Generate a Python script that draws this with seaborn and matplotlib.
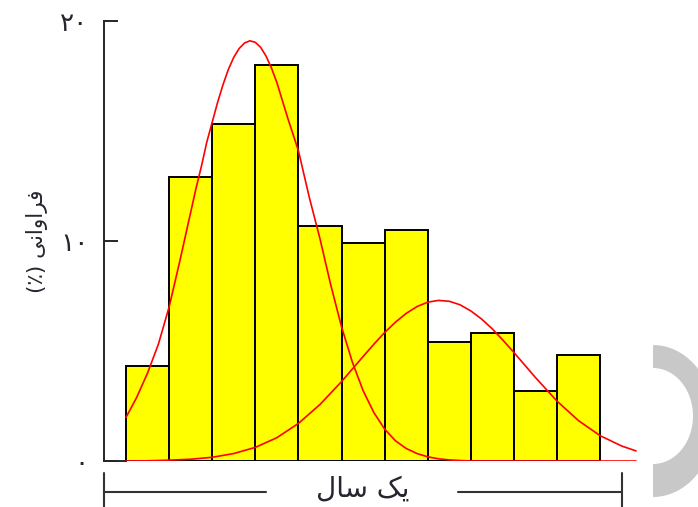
import numpy as np
import matplotlib
matplotlib.use("Agg")
import matplotlib.pyplot as plt
from matplotlib.patches import Polygon
import seaborn as sns

# histogram: 11 bins spanning one year, frequency in percent
bin_edges = [0, 1, 2, 3, 4, 5, 6, 7, 8, 9, 10, 11]
bin_centers = [0.5, 1.5, 2.5, 3.5, 4.5, 5.5, 6.5, 7.5, 8.5, 9.5, 10.5]
freq_pct = [4.3, 12.9, 15.3, 18.0, 10.7, 9.9, 10.5, 5.4, 5.8, 3.2, 4.8]

# first fitted curve
curve1_x = [0.0, 0.25, 0.5, 0.75, 1.0, 1.25, 1.5, 1.625, 1.75, 1.875, 2.0,
            2.125, 2.25, 2.375, 2.5, 2.625, 2.75, 2.875, 3.0, 3.125, 3.25,
            3.375, 3.5, 3.625, 3.75, 4.0, 4.25, 4.5, 4.75, 5.0, 5.25, 5.5,
            5.75, 6.0, 6.25, 6.5, 6.75, 7.0, 7.25, 7.5, 8.0, 11.83]
curve1_y = [1.98, 2.9, 4.0, 5.3, 7.0, 9.1, 11.3, 12.4, 13.4, 14.5, 15.4,
            16.3, 17.1, 17.8, 18.35, 18.75, 19.0, 19.1, 19.03, 18.8, 18.4,
            17.86, 17.2, 16.4, 15.6, 14.1, 12.0, 10.1, 8.0, 6.1, 4.5, 3.2,
            2.2, 1.45, 0.92, 0.57, 0.34, 0.19, 0.1, 0.05, 0.0, 0.0]

# second fitted curve
curve2_x = [0.0, 0.5, 1.0, 1.5, 2.0, 2.5, 3.0, 3.5, 4.0, 4.5, 5.0, 5.25, 5.5,
            5.75, 6.0, 6.25, 6.5, 6.75, 7.0, 7.25, 7.5, 7.75, 8.0, 8.25, 8.5,
            8.75, 9.0, 9.5, 10.0, 10.5, 11.0, 11.5, 11.83]
curve2_y = [0.0, 0.01, 0.04, 0.08, 0.17, 0.34, 0.62, 1.06, 1.71, 2.57, 3.61,
            4.18, 4.75, 5.31, 5.84, 6.31, 6.71, 7.02, 7.22, 7.3, 7.26, 7.1,
            6.82, 6.45, 6.0, 5.48, 4.93, 3.79, 2.72, 1.83, 1.15, 0.68, 0.46]

yticks = [0, 10, 20]
ytick_labels = ["۰", "۱۰", "۲۰"]
# Persian text written in presentation forms, visual (left-to-right) order
ylabel_txt = "(٪) \uFEF0\uFEE7\uFE8D\uFEED\uFE8D\uFEAE\uFED3"  # فراوانی (٪)
span_txt = "\uFEDD\uFE8E\uFEB3 \uFB8F\uFEF3"  # یک سال

sns.set_style("ticks")
plt.rcParams["font.family"] = ["DejaVu Sans"]
txt_color = "#262630"

fig = plt.figure(figsize=(6.98, 5.07), dpi=100)
ax = fig.add_axes([0.149, 0.0907, 0.785, 0.8679])

sns.histplot(x=bin_centers, weights=freq_pct, bins=bin_edges, stat="count",
             color="#ffff00", edgecolor="black", linewidth=1.4, alpha=1,
             ax=ax, zorder=2)
sns.lineplot(x=curve1_x, y=curve1_y, color="red", linewidth=1.2, ax=ax, zorder=3)
sns.lineplot(x=curve2_x, y=curve2_y, color="red", linewidth=1.2, ax=ax, zorder=3)

ax.set_xlim(-0.51, 12.2)
ax.set_ylim(0, 20)
ax.set_xticks([])
ax.set_yticks(yticks)
ax.set_yticklabels(ytick_labels, fontsize=19, color=txt_color)
ax.tick_params(axis="y", direction="in", length=10, width=1.4, pad=11)
ax.set_xlabel("")
ax.set_ylabel(ylabel_txt, fontsize=15.5, color=txt_color)
ax.yaxis.set_label_coords(-0.102, 0.5)

sns.despine(ax=ax)
ax.spines["left"].set_linewidth(1.4)
ax.spines["bottom"].set_linewidth(1.4)
ax.spines["bottom"].set_bounds(-0.51, 0)

# "one year" bracket under the axis
lc = "#333333"
fig.add_artist(plt.Line2D([0.149, 0.381], [0.0296, 0.0296], color=lc, lw=1.5))
fig.add_artist(plt.Line2D([0.656, 0.891], [0.0296, 0.0296], color=lc, lw=1.5))
fig.add_artist(plt.Line2D([0.149, 0.149], [0.0, 0.067], color=lc, lw=1.5))
fig.add_artist(plt.Line2D([0.891, 0.891], [0.0, 0.067], color=lc, lw=1.5))
fig.text(0.520, 0.036, span_txt, fontsize=20, color=txt_color,
         ha="center", va="center")

# grey crescent decoration at right edge (pixel units -> figure fraction)
t = np.linspace(-np.pi / 2, np.pi / 2, 60)
outer = np.c_[653 + 62 * np.cos(t), 421 + 76 * np.sin(t)]
inner = np.c_[653 + 40 * np.cos(t[::-1]), 416 + 48 * np.sin(t[::-1])]
pts = np.vstack([outer, inner])
pts = np.c_[pts[:, 0] / 698, (507 - pts[:, 1]) / 507]
fig.add_artist(Polygon(pts, closed=True, facecolor="#c8c8c8", edgecolor="none"))

fig.savefig("out.png", dpi=100)
